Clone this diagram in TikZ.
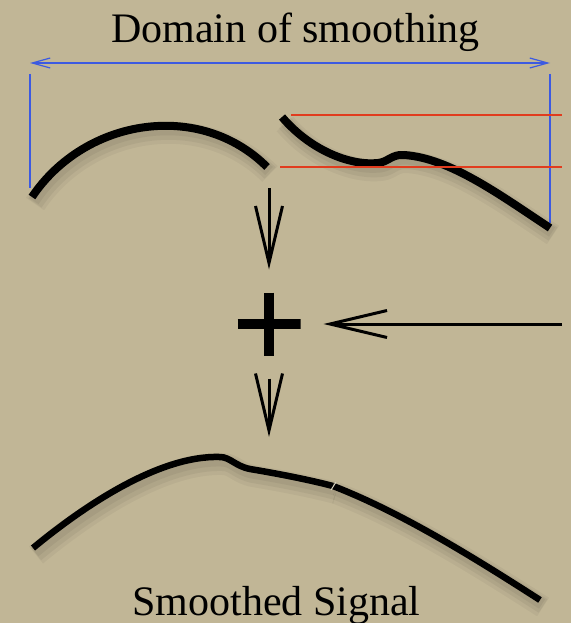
\documentclass[tikz,border=0pt]{standalone}
\usepackage{fontspec}
\setmainfont{Liberation Serif}
\usepackage{tikz}
\usetikzlibrary{arrows.meta, positioning}
\definecolor{nennau}{RGB}{193,182,150}
\definecolor{xanh}{RGB}{60,90,225}
\definecolor{do}{RGB}{225,60,30}

\begin{document}
\begin{tikzpicture}[x=1pt, y=-1pt, >={Straight Barb[length=57pt,width=27pt]},
    tinhieu/.style={line width=8pt,
        preaction={draw, line width=22pt, opacity=0.04, transform canvas={shift={(3,7)}}},
        preaction={draw, line width=16pt, opacity=0.05, transform canvas={shift={(3,6)}}},
        preaction={draw, line width=11pt, opacity=0.05, transform canvas={shift={(2,4)}}}},
    chu/.style={font=\fontsize{42}{48}\selectfont}]
    % Nền
    \fill[nennau] (0,0) rectangle (571,623);
    \useasboundingbox (0,0) rectangle (571,623);

    % Tiêu đề và nhãn
    \node[chu, anchor=base] (tieude) at (295.5,43) {Domain of smoothing};
    \node[chu, anchor=base] (ketqua) at (276.5,615) {Smoothed Signal};

    % Miền làm trơn
    \coordinate (mientrai) at (30,63);
    \coordinate (mienphai) at (550,63);
    \draw[xanh, line width=1.2pt, {Straight Barb[length=18pt,width=10pt]}-{Straight Barb[length=18pt,width=10pt]}]
        (mientrai) -- (mienphai);
    \draw[xanh, line width=1.2pt] (30,74) -- (30,188);
    \draw[xanh, line width=1.2pt] (550,74) -- (550,223);

    % Hai đoạn tín hiệu
    \draw[tinhieu] (32,197) .. controls (85,118) and (200,100) .. (267,167);
    \draw[tinhieu] (282,117) .. controls (310,150) and (350,166) .. (378,163)
        .. controls (388,162) and (392,154) .. (404,155)
        .. controls (450,158) and (500,195) .. (550,228);

    % Đường đỏ
    \draw[do, line width=1.1pt] (291,115) -- (562,115);
    \draw[do, line width=1.1pt] (280,167) -- (562,167);

    % Dấu cộng và các mũi tên
    \node[minimum size=63pt, inner sep=0pt, outer sep=23pt, path picture={
        \draw[line width=9.5pt] (path picture bounding box.west) -- (path picture bounding box.east);
        \draw[line width=10pt] (path picture bounding box.north) -- (path picture bounding box.south);
    }] (cong) at (269,324) {};
    \coordinate (dau1) at (269,188);
    \coordinate (cuoi2) at (269,437);
    \coordinate (phai) at (562,324);
    \draw[->, line width=3pt] (dau1) -- (cong.north);
    \draw[->, line width=3pt] (cong.south) -- (cuoi2);
    \draw[->, line width=3pt] (phai) -- (cong.east);

    % Tín hiệu đã làm trơn
    \draw[tinhieu, line width=6.5pt] (33,548) .. controls (85,505) and (160,455) .. (220,457)
        .. controls (230,457) and (235,466) .. (250,469)
        .. controls (280,474) and (310,480) .. (333,486);
    \draw[tinhieu, line width=6.5pt] (333,486) .. controls (400,512) and (470,555) .. (540,600);
    \draw[nennau!60!white, line width=1pt] (331,490) -- (336,482);
\end{tikzpicture}
\end{document}
